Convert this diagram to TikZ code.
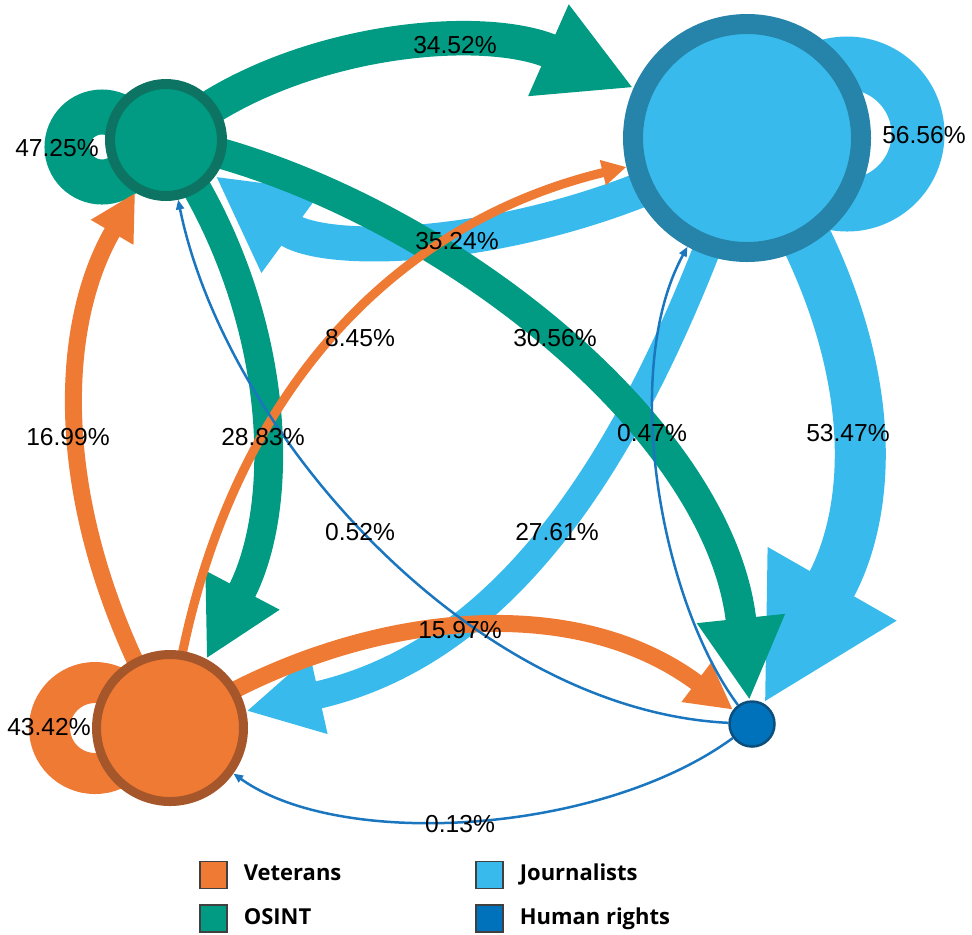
\documentclass[tikz,border=0pt]{standalone}
\usepackage{fontspec}
\setmainfont{Liberation Sans}
\newfontfamily\legendfont{Open Sans}
\usetikzlibrary{arrows.meta,positioning}
\definecolor{osintteal}{HTML}{009B82}
\definecolor{osintring}{HTML}{0D7463}
\definecolor{jourblue}{HTML}{38BBEC}
\definecolor{jourring}{HTML}{2683A9}
\definecolor{vetorange}{HTML}{EE7A34}
\definecolor{vetring}{HTML}{A5562A}
\definecolor{hrblue}{HTML}{0072BB}
\definecolor{hrring}{HTML}{0C4E7C}
\definecolor{hrline}{HTML}{1B76C0}
\newcommand{\pix}{0.02cm}
\pgfdeclarelayer{bg}
\pgfsetlayers{bg,main}

\begin{document}
\begin{tikzpicture}[x=0.02cm,y=-0.02cm,
  font=\fontsize{14}{16}\selectfont,
  group/.style={circle,inner sep=0pt},
  flow/.style={line width=#1*\pix,-{Triangle[length=0pt 2.7,width=0pt 2.7]}},
  faint/.style={draw=hrline,line width=2.5*\pix,-{Triangle[length=5.5pt,width=4.5pt]}},
  pct/.style={inner sep=1pt},
  legbox/.style={draw=black!75,line width=0.6pt,minimum size=27*\pix,inner sep=0pt},
  legtext/.style={font=\legendfont\bfseries\fontsize{12.5}{15}\selectfont,
    inner sep=0pt,text height=1.6ex,text depth=0.4ex,anchor=west}
]
\useasboundingbox (0,0) rectangle (972,934);

\node[group,fill=osintteal,draw=osintring,line width=10*\pix,minimum size=112*\pix] (osint) at (166,140) {};
\node[group,fill=jourblue,draw=jourring,line width=20*\pix,minimum size=228*\pix] (jour) at (747,138) {};
\node[group,fill=vetorange,draw=vetring,line width=9*\pix,minimum size=147*\pix] (vet) at (170,728) {};
\node[group,fill=hrblue,draw=hrring,line width=2.5*\pix,minimum size=45*\pix] (hr) at (752,724) {};

\begin{pgfonlayer}{bg}
\draw[osintteal,line width=45*\pix] (102,147) circle [radius=35*\pix];
\draw[jourblue,line width=53*\pix] (847,134) circle [radius=71*\pix];
\draw[vetorange,line width=41*\pix] (95,728) circle [radius=45.5*\pix];

\draw[flow=35,draw=jourblue] (jour.center) .. controls (560,250) and (330,260) .. (osint);
\draw[flow=27.6,draw=jourblue] (jour.center) .. controls (650,430) and (520,650) .. (vet);
\draw[flow=51,draw=jourblue] (jour.center) .. controls (880,330) and (880,500) .. (hr);
\draw[flow=34.5,draw=osintteal] (osint.center) .. controls (280,40) and (480,20) .. (jour);
\draw[flow=30.5,draw=osintteal] (osint.center) .. controls (420,190) and (720,420) .. (hr);
\draw[flow=28.8,draw=osintteal] (osint.center) .. controls (280,300) and (290,500) .. (vet);
\draw[flow=17,draw=vetorange] (vet.center) .. controls (50,520) and (55,330) .. (osint);
\draw[flow=9,draw=vetorange] (vet.center) .. controls (210,410) and (385,225) .. (jour);
\draw[flow=17,draw=vetorange] (vet.center) .. controls (330,620) and (560,580) .. (hr);
\draw[faint] (hr) .. controls (470,710) and (225,430) .. (osint);
\draw[faint] (hr) .. controls (660,600) and (620,370) .. (jour);
\draw[faint] (hr) .. controls (600,835) and (340,850) .. (vet);
\end{pgfonlayer}

\node[pct] (p-os-self) at (57,148) {47.25\%};
\node[pct] (p-jo-self) at (924,135) {56.56\%};
\node[pct] (p-ve-self) at (49,727) {43.42\%};
\node[pct] (p-os-jo) at (455,45) {34.52\%};
\node[pct] (p-jo-os) at (457,241) {35.24\%};
\node[pct] (p-ve-jo) at (360,338) {8.45\%};
\node[pct] (p-os-hr) at (555,338) {30.56\%};
\node[pct] (p-ve-os) at (68,437) {16.99\%};
\node[pct] (p-os-ve) at (263,437) {28.83\%};
\node[pct] (p-hr-jo) at (652,433) {0.47\%};
\node[pct] (p-jo-hr) at (848,433) {53.47\%};
\node[pct] (p-hr-os) at (360,532) {0.52\%};
\node[pct] (p-jo-ve) at (557,532) {27.61\%};
\node[pct] (p-ve-hr) at (460,630) {15.97\%};
\node[pct] (p-hr-ve) at (460,824) {0.13\%};

\node[legbox,fill=vetorange] (key-vet) at (213.5,875) {};
\node[legtext,right=0.32cm of key-vet] (txt-vet) {Veterans};
\node[legbox,fill=osintteal] (key-osint) at (213.5,918.5) {};
\node[legtext,right=0.32cm of key-osint] (txt-osint) {OSINT};
\node[legbox,fill=jourblue] (key-jour) at (489.5,875) {};
\node[legtext,right=0.32cm of key-jour] (txt-jour) {Journalists};
\node[legbox,fill=hrblue] (key-hr) at (489.5,918.5) {};
\node[legtext,right=0.32cm of key-hr] (txt-hr) {Human rights};
\end{tikzpicture}
\end{document}
